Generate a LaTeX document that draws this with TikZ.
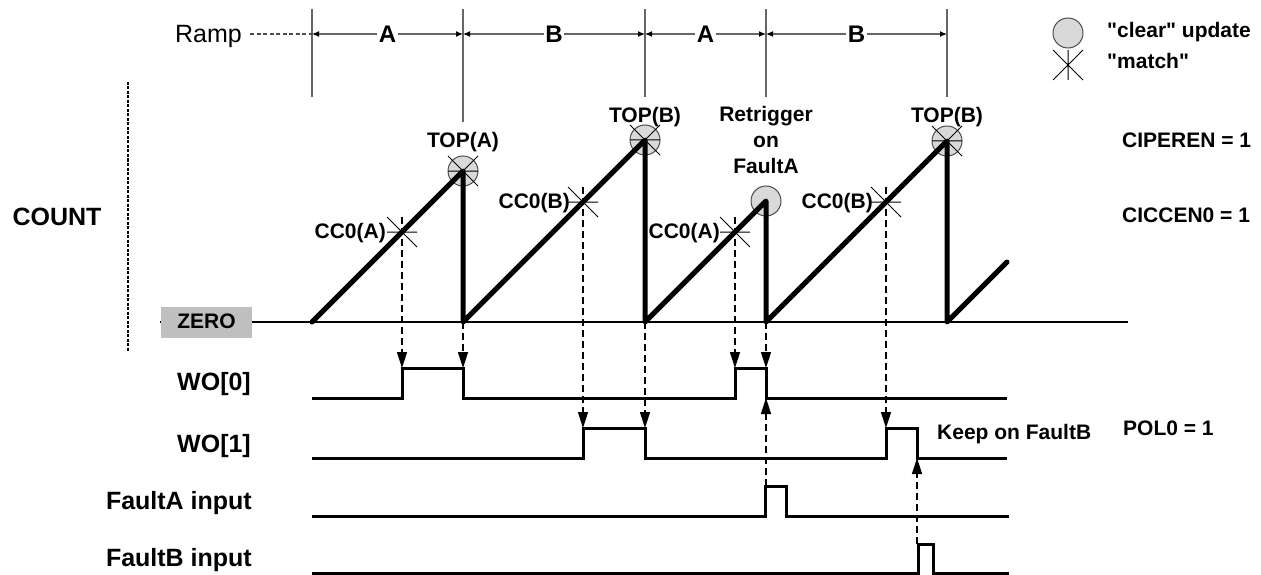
\documentclass[tikz,border=0pt]{standalone}
\usepackage{fontspec}
\setmainfont{Liberation Sans}
\usetikzlibrary{arrows.meta}
\begin{document}
\begin{tikzpicture}[x=1pt,y=-1pt,
  big/.style={font=\fontsize{25}{30}\selectfont\bfseries, inner sep=0pt},
  small/.style={font=\fontsize{21}{25}\selectfont\bfseries, inner sep=0pt},
  tickline/.style={draw=black!60, line width=1.3pt},
  dim/.style={draw=black!60, line width=1.2pt, {Latex[length=7pt,width=6pt,color=black]}-{Latex[length=7pt,width=6pt,color=black]}},
  dimlab/.style={font=\fontsize{24}{28}\selectfont\bfseries, fill=white, inner sep=1.5pt},
  saw/.style={line width=5pt, line join=round, line cap=round},
  sig/.style={line width=3pt, line join=miter},
  dasharrow/.style={line width=1.5pt, dash pattern=on 7pt off 4pt, -{Triangle[length=16pt,width=10pt]}},
  clearc/.style={circle, draw=black!70, line width=1pt, fill=black!15, minimum size=30pt, inner sep=0pt},
  matchh/.pic={\draw[line width=1pt] (-15,0)--(15,0) (-15,-15)--(15,15) (-15,15)--(15,-15);},
  matchv/.pic={\draw[line width=1pt] (0,-15)--(0,15) (-15,-15)--(15,15) (-15,15)--(15,-15);},
]
\useasboundingbox (0,0) rectangle (1261,575);

% ---------------- Ramp dimension row ----------------
\foreach \n/\x/\yb in {r0/312/97, r1/463/122, r2/645/97, r3/766/97, r4/947/97} {
  \coordinate (\n top) at (\x,9);
  \coordinate (\n bot) at (\x,\yb);
  \coordinate (\n) at (\x,34);
  \draw[tickline] (\n top) -- (\n bot);
}
\node[anchor=base east, inner sep=0pt, font=\fontsize{25}{30}\selectfont] (ramp) at (242,43) {Ramp};
\coordinate (rampend) at (250,34);
\draw[black!70, line width=1.2pt, dash pattern=on 4pt off 2.5pt] (rampend) -- (r0);
\draw[dim] (r0) -- node[dimlab] (lA1) {A} (r1);
\draw[dim] (r1) -- node[dimlab] (lB1) {B} (r2);
\draw[dim] (r2) -- node[dimlab] (lA2) {A} (r3);
\draw[dim] (r3) -- node[dimlab] (lB2) {B} (r4);

% ---------------- Legend ----------------
\node[clearc] (legc) at (1068,33) {};
\pic at (1068,65) {matchv};
\node[small, anchor=base west] (legct) at (1107,38) {\textquotedbl clear\textquotedbl{} update};
\node[small, anchor=base west] (legmt) at (1107,69) {\textquotedbl match\textquotedbl};

% ---------------- COUNT ----------------
\node[big, anchor=base] (count) at (57,225) {COUNT};
\coordinate (dv1) at (128,82);
\coordinate (dv2) at (128,352);
\draw[line width=1.5pt, dash pattern=on 3pt off 1.5pt] (dv1) -- (dv2);

\coordinate (zl) at (160,322);
\coordinate (zr) at (1128,322);
\draw[line width=1.2pt] (zl) -- (zr);
\node[small, fill=black!25, minimum width=91pt, minimum height=31pt, anchor=center] (zero) at (206.5,322.5) {};
\node[small, anchor=base] (zerot) at (zero.center |- 0,328) {ZERO};

% sawtooth points
\coordinate (z0) at (312,322);
\coordinate (p1) at (463,171);
\coordinate (z1) at (463,322);
\coordinate (p2) at (645,140);
\coordinate (z2) at (645,322);
\coordinate (p3) at (766,201);
\coordinate (z3) at (766,322);
\coordinate (p4) at (947,141);
\coordinate (z4) at (947,322);
\coordinate (e5) at (1007,262);

% clear circles (behind ramp)
\node[clearc] (c1) at (p1) {};
\node[clearc] (c2) at (p2) {};
\node[clearc] (c3) at (p3) {};
\node[clearc] (c4) at (p4) {};

\draw[saw] (z0) -- (p1) -- (z1) -- (p2) -- (z2) -- (p3) -- (z3) -- (p4) -- (z4) -- (e5);

% match markers
\coordinate (m1) at (402,232);
\coordinate (m2) at (583,202);
\coordinate (m3) at (735,232);
\coordinate (m4) at (886,202);
\foreach \m in {m1,m2,m3,m4,p1,p2,p4} { \pic at (\m) {matchh}; }

% labels on the count graph
\node[small, anchor=base] (topA) at (463,147) {TOP(A)};
\node[small, anchor=base] (topB1) at (645,123) {TOP(B)};
\node[small, anchor=base] (topB2) at (947,123) {TOP(B)};
\node[small, anchor=base] (ret1) at (766,122) {Retrigger};
\node[small, anchor=base] (ret2) at (766,147) {on};
\node[small, anchor=base] (ret3) at (766,173) {FaultA};
\node[small, anchor=base east] (cc1) at (386,238) {CC0(A)};
\node[small, anchor=base east] (cc2) at (570,208) {CC0(B)};
\node[small, anchor=base east] (cc3) at (720,238) {CC0(A)};
\node[small, anchor=base east] (cc4) at (873,208) {CC0(B)};

\node[small, anchor=base west] (cip) at (1122,147) {CIPEREN = 1};
\node[small, anchor=base west] (cic) at (1122,222) {CICCEN0 = 1};

% ---------------- Signals ----------------
\node[big, anchor=base east] (wo0) at (251,390) {WO[0]};
\node[big, anchor=base east] (wo1) at (251,452) {WO[1]};
\node[big, anchor=base east] (fa) at (252,509) {FaultA input};
\node[big, anchor=base east] (fb) at (252,566) {FaultB input};

\draw[sig] (312,398) -- (402,398) -- (402,368) -- (463,368) -- (463,398) -- (735,398) -- (735,368) -- (766,368) -- (766,398) -- (1007,398);
\draw[sig] (312,458) -- (583,458) -- (583,428) -- (645,428) -- (645,458) -- (886,458) -- (886,428) -- (917,428) -- (917,458) -- (1007,458);
\draw[sig] (312,516) -- (765,516) -- (765,486) -- (786,486) -- (786,516) -- (1009,516);
\draw[sig] (312,573) -- (918,573) -- (918,544) -- (933,544) -- (933,573) -- (1009,573);

\node[small, anchor=base west] (keep) at (937,439) {Keep on FaultB};
\node[small, anchor=base west] (pol) at (1123,435) {POL0 = 1};

% ---------------- Dashed arrows ----------------
\coordinate (w0r1) at (402,368);
\coordinate (w0f1) at (463,368);
\coordinate (w1r1) at (583,428);
\coordinate (w1f1) at (645,428);
\coordinate (w0r2) at (735,368);
\coordinate (w0f2) at (766,368);
\coordinate (w1r2) at (886,428);
\coordinate (w0low) at (766,398);
\coordinate (w1low) at (917,458);
\coordinate (fap) at (766,486);
\coordinate (fbp) at (917,544);

\draw[dasharrow] ([yshift=15pt]m1) -- (w0r1);
\draw[dasharrow] (z1) -- (w0f1);
\draw[dasharrow] ([yshift=15pt]m2) -- (w1r1);
\draw[dasharrow] (z2) -- (w1f1);
\draw[dasharrow] ([yshift=15pt]m3) -- (w0r2);
\draw[dasharrow] (z3) -- (w0f2);
\draw[dasharrow] ([yshift=15pt]m4) -- (w1r2);
\draw[dasharrow] (fap) -- (w0low);
\draw[dasharrow] (fbp) -- (w1low);
\end{tikzpicture}
\end{document}
